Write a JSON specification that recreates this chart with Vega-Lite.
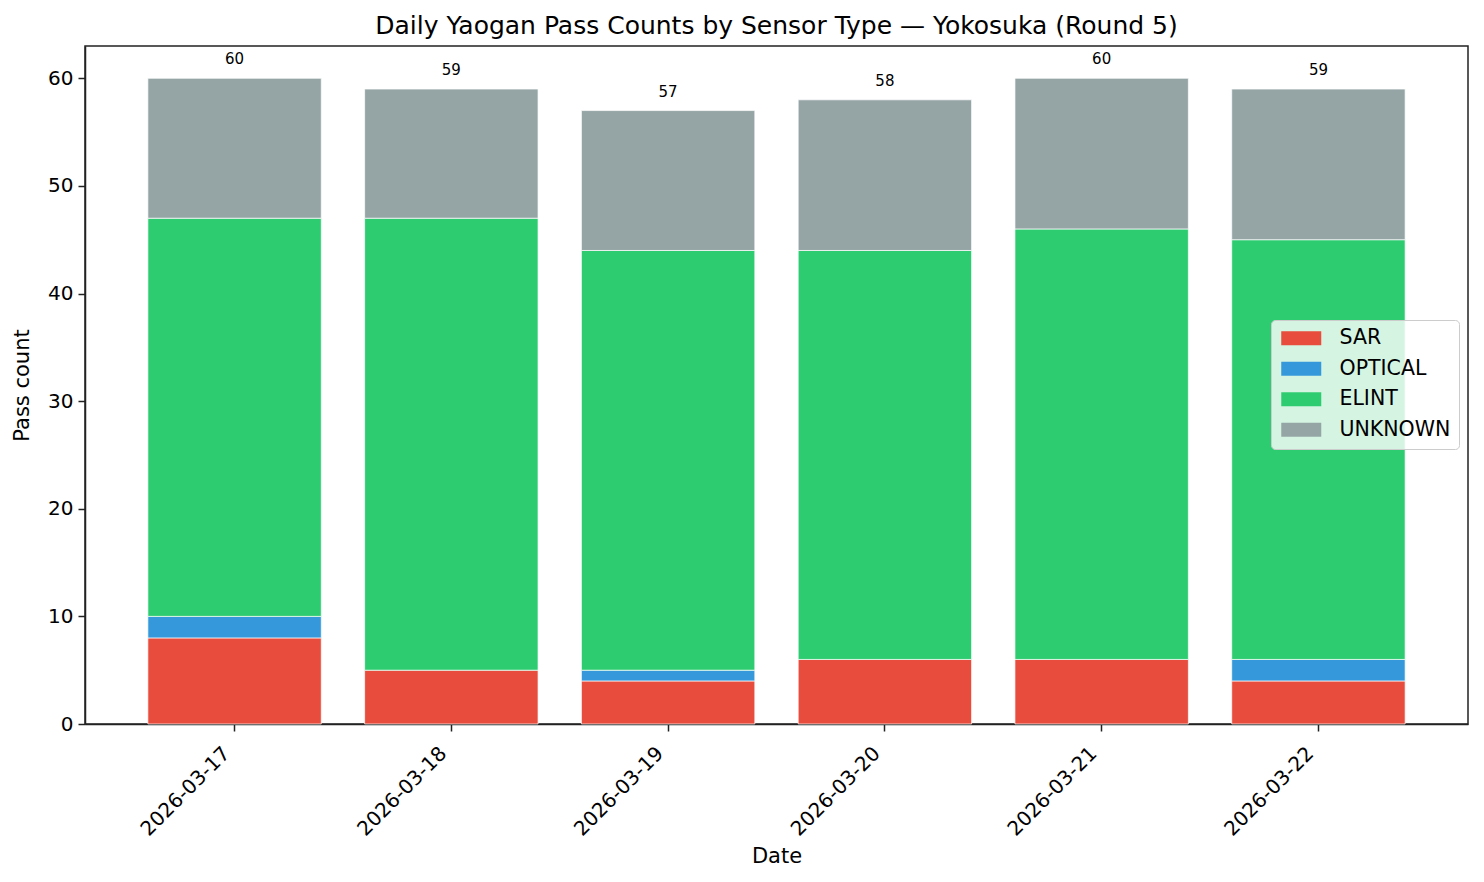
{
  "$schema": "https://vega.github.io/schema/vega-lite/v6.json",
  "autosize": {"type": "none"},
  "padding": {"left": 85, "top": 46, "right": 16, "bottom": 158},
  "width": 1383,
  "height": 678,
  "background": "white",
  "config": {
    "font": "DejaVu Sans",
    "view": {"stroke": "#222222", "strokeWidth": 1.5},
    "axis": {
      "labelFont": "DejaVu Sans",
      "titleFont": "DejaVu Sans",
      "labelColor": "black",
      "titleColor": "black",
      "titleFontWeight": "normal",
      "domainColor": "#222222",
      "domainWidth": 1.5,
      "tickColor": "#222222",
      "tickWidth": 1.5,
      "tickSize": 7,
      "grid": false
    }
  },
  "title": {
    "text": "Daily Yaogan Pass Counts by Sensor Type — Yokosuka (Round 5)",
    "font": "DejaVu Sans",
    "fontSize": 25,
    "fontWeight": "normal",
    "color": "black",
    "anchor": "middle",
    "offset": 7
  },
  "data": {
    "values": [
      {"date": "2026-03-17", "sensor": "SAR", "k": 0, "count": 8},
      {"date": "2026-03-17", "sensor": "OPTICAL", "k": 1, "count": 2},
      {"date": "2026-03-17", "sensor": "ELINT", "k": 2, "count": 37},
      {"date": "2026-03-17", "sensor": "UNKNOWN", "k": 3, "count": 13},
      {"date": "2026-03-18", "sensor": "SAR", "k": 0, "count": 5},
      {"date": "2026-03-18", "sensor": "ELINT", "k": 2, "count": 42},
      {"date": "2026-03-18", "sensor": "UNKNOWN", "k": 3, "count": 12},
      {"date": "2026-03-19", "sensor": "SAR", "k": 0, "count": 4},
      {"date": "2026-03-19", "sensor": "OPTICAL", "k": 1, "count": 1},
      {"date": "2026-03-19", "sensor": "ELINT", "k": 2, "count": 39},
      {"date": "2026-03-19", "sensor": "UNKNOWN", "k": 3, "count": 13},
      {"date": "2026-03-20", "sensor": "SAR", "k": 0, "count": 6},
      {"date": "2026-03-20", "sensor": "ELINT", "k": 2, "count": 38},
      {"date": "2026-03-20", "sensor": "UNKNOWN", "k": 3, "count": 14},
      {"date": "2026-03-21", "sensor": "SAR", "k": 0, "count": 6},
      {"date": "2026-03-21", "sensor": "ELINT", "k": 2, "count": 40},
      {"date": "2026-03-21", "sensor": "UNKNOWN", "k": 3, "count": 14},
      {"date": "2026-03-22", "sensor": "SAR", "k": 0, "count": 4},
      {"date": "2026-03-22", "sensor": "OPTICAL", "k": 1, "count": 2},
      {"date": "2026-03-22", "sensor": "ELINT", "k": 2, "count": 39},
      {"date": "2026-03-22", "sensor": "UNKNOWN", "k": 3, "count": 14}
    ]
  },
  "encoding": {
    "x": {
      "field": "date",
      "type": "ordinal",
      "scale": {"paddingInner": 0.2, "paddingOuter": 0.29},
      "axis": {
        "title": "Date",
        "labelAngle": -45,
        "labelFontSize": 20,
        "titleFontSize": 21,
        "labelPadding": 12,
        "labelOffset": -15,
        "titlePadding": 6
      }
    }
  },
  "layer": [
    {
      "mark": {"type": "bar", "stroke": "white", "strokeWidth": 0.7},
      "encoding": {
        "y": {
          "field": "count",
          "type": "quantitative",
          "aggregate": "sum",
          "stack": "zero",
          "scale": {"domain": [0, 63], "nice": false},
          "axis": {
            "title": "Pass count",
            "values": [0, 10, 20, 30, 40, 50, 60],
            "labelFontSize": 20,
            "titleFontSize": 21,
            "labelPadding": 5,
            "titlePadding": 15
          }
        },
        "color": {
          "field": "sensor",
          "type": "nominal",
          "scale": {
            "domain": ["SAR", "OPTICAL", "ELINT", "UNKNOWN"],
            "range": ["#e74c3c", "#3498db", "#2ecc71", "#95a5a6"]
          },
          "legend": {
            "title": null,
            "orient": "none",
            "legendX": 1186,
            "legendY": 274,
            "padding": 8,
            "rowPadding": 9.5,
            "symbolType": "M-0.8,-0.7H3.2V0.7H-0.8Z",
            "symbolSize": 400,
            "symbolStrokeWidth": 0,
            "labelOffset": 40,
            "labelFontSize": 20.5,
            "labelFont": "DejaVu Sans",
            "labelColor": "black",
            "fillColor": "rgba(255,255,255,0.8)",
            "strokeColor": "#cccccc",
            "cornerRadius": 4
          }
        },
        "order": {"field": "k", "type": "quantitative"}
      }
    },
    {
      "transform": [
        {"aggregate": [{"op": "sum", "field": "count", "as": "total"}], "groupby": ["date"]}
      ],
      "mark": {"type": "text", "baseline": "alphabetic", "dy": -14, "fontSize": 15, "color": "black", "font": "DejaVu Sans"},
      "encoding": {
        "y": {"field": "total", "type": "quantitative"},
        "text": {"field": "total", "type": "quantitative"}
      }
    }
  ]
}
